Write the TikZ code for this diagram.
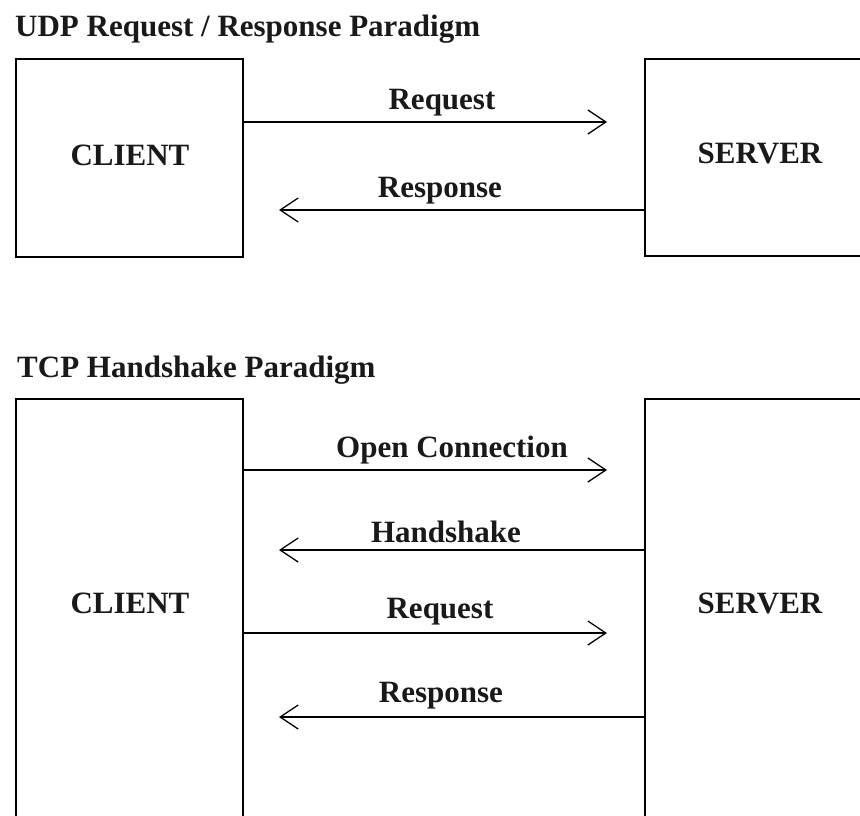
\documentclass[tikz,border=0pt]{standalone}
\usepackage{fontspec}
\setmainfont{Liberation Serif}
\usetikzlibrary{arrows.meta}

\tikzset{
  box/.style={draw=black, line width=1.8pt, fill=white, inner sep=0pt, anchor=north west},
  txt/.style={inner sep=0pt, font=\bfseries\fontsize{31}{31}\selectfont, text=black!90},
  boxtxt/.style={txt, anchor=base},
  msg/.style={line width=1.6pt, -{Straight Barb[length=18pt, width=24pt, line width=1.3pt]}}
}

\begin{document}
\begin{tikzpicture}[x=1pt, y=-1pt]
  \useasboundingbox (0,0) rectangle (860,816);
  \clip (0,0) rectangle (860,816);
  \fill[white] (0,0) rectangle (860,816);

  % ---- UDP section ----
  \node[txt, anchor=base west] (udptitle) at (15,37) {UDP Request / Response Paradigm};

  \node[box, minimum width=227pt, minimum height=198pt] (c1) at (15,58) {};
  \node[box, minimum width=240pt, minimum height=197pt] (s1) at (644,58) {};
  \node[boxtxt] (c1t) at (130,165) {CLIENT};
  \node[boxtxt] (s1t) at (760,163) {SERVER};

  \coordinate (u1) at (607,122);
  \coordinate (u2) at (279,210);
  \draw[msg] (c1.east |- u1) -- (u1);
  \draw[msg] (s1.west |- u2) -- (u2);
  \node[boxtxt] (udpreq) at (442,110) {Request};
  \node[boxtxt] (udpresp) at (440,197) {Response};

  % ---- TCP section ----
  \node[txt, anchor=base west] (tcptitle) at (17,377) {TCP Handshake Paradigm};

  \node[box, minimum width=227pt, minimum height=450pt] (c2) at (15,398) {};
  \node[box, minimum width=240pt, minimum height=450pt] (s2) at (644,398) {};
  \node[boxtxt] (c2t) at (130,613) {CLIENT};
  \node[boxtxt] (s2t) at (760,613) {SERVER};

  \coordinate (t1) at (607,470);
  \coordinate (t2) at (279,550);
  \coordinate (t3) at (607,633);
  \coordinate (t4) at (279,717);
  \draw[msg] (c2.east |- t1) -- (t1);
  \draw[msg] (s2.west |- t2) -- (t2);
  \draw[msg] (c2.east |- t3) -- (t3);
  \draw[msg] (s2.west |- t4) -- (t4);
  \node[boxtxt] (open) at (452,457) {Open Connection};
  \node[boxtxt] (hand) at (446,542) {Handshake};
  \node[boxtxt] (tcpreq) at (440,618) {Request};
  \node[boxtxt] (tcpresp) at (441,702) {Response};
\end{tikzpicture}
\end{document}
